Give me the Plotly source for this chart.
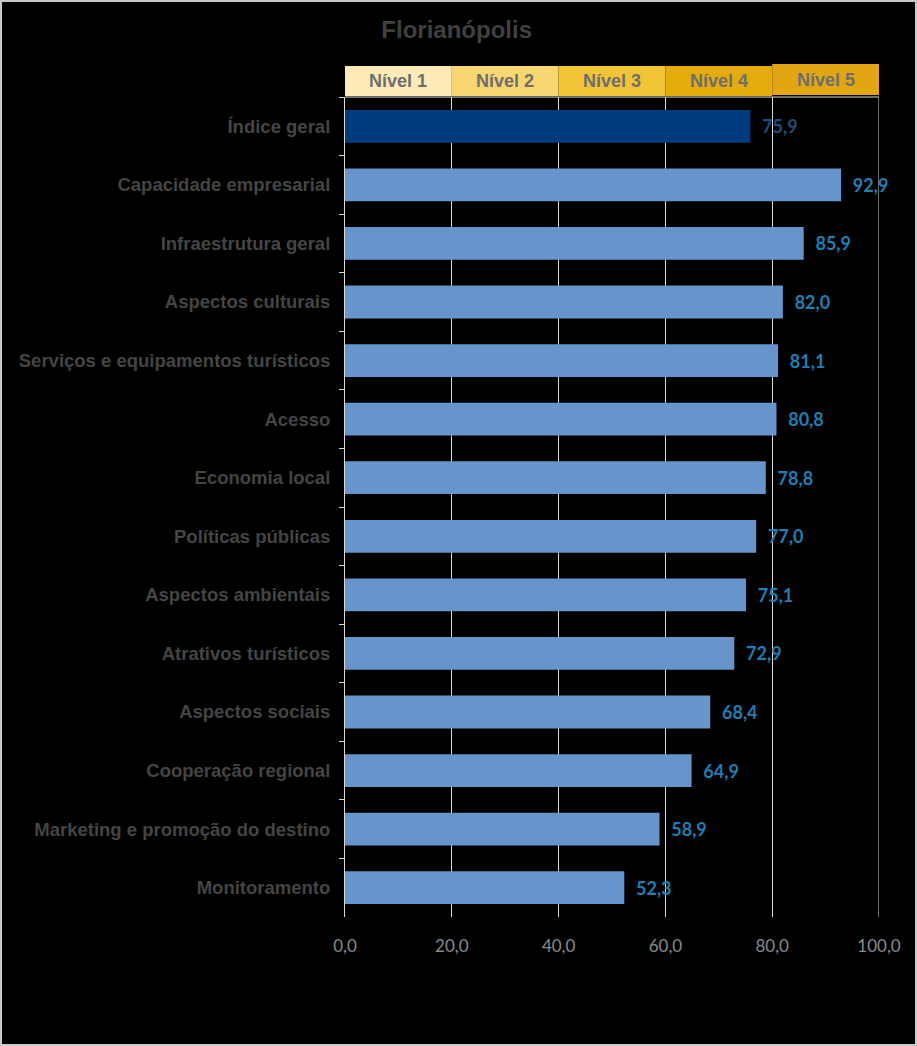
import plotly.graph_objects as go

categories = [
    "Índice geral", "Capacidade empresarial", "Infraestrutura geral", "Aspectos culturais",
    "Serviços e equipamentos turísticos", "Acesso", "Economia local", "Políticas públicas",
    "Aspectos ambientais", "Atrativos turísticos", "Aspectos sociais", "Cooperação regional",
    "Marketing e promoção do destino", "Monitoramento",
]
values = [75.9, 92.9, 85.9, 82.0, 81.1, 80.8, 78.8, 77.0, 75.1, 72.9, 68.4, 64.9, 58.9, 52.3]

level_labels = ["Nível 1", "Nível 2", "Nível 3", "Nível 4", "Nível 5"]
level_starts = [0, 20, 40, 60, 80]
level_ends = [20, 40, 60, 80, 100]
level_colors = ["#FCEBB6", "#F7D672", "#F0C435", "#E4AC0B", "#E2A612"]

tick_vals = [0, 20, 40, 60, 80, 100]

W, H = 917, 1046
L, R, T, B = 345, 38, 97, 129
PW, PH = W - L - R, H - T - B

def py(p):
    return (H - B - p) / PH

def px(p):
    return (p - L) / PW

bar_colors = ["#003C7D"] + ["#6694CB"] * (len(values) - 1)
text_colors = ["#1F4E79"] + ["#1F7FB3"] * (len(values) - 1)

fig = go.Figure(go.Bar(
    x=values, y=categories, orientation="h",
    marker=dict(color=bar_colors, line=dict(width=0)),
    width=0.56,
    text=values, texttemplate="\u00a0\u00a0%{x:.1f}", textposition="outside",
    textfont=dict(family="Lato", size=18, color=text_colors, weight="bold"),
    cliponaxis=False,
))

shapes = []
annotations = []
for i, (lab, x0, x1, c) in enumerate(zip(level_labels, level_starts, level_ends, level_colors)):
    top = 64 if i == 4 else 66
    bot = 95 if i == 4 else 96
    shapes.append(dict(type="rect", xref="x", yref="paper", x0=x0, x1=x1,
                       y0=py(bot), y1=py(top), fillcolor=c, line=dict(width=0)))
    annotations.append(dict(x=(x0 + x1) / 2, y=py((top + bot) / 2), xref="x", yref="paper",
                            xanchor="center", yanchor="middle",
                            text=lab, showarrow=False,
                            font=dict(family="Liberation Sans", size=18, color="#6E6E6E", weight="bold")))
# thin line under level bands
shapes.append(dict(type="line", xref="x", yref="paper", x0=0, x1=100, y0=1, y1=1,
                   line=dict(color="#D9D9D9", width=1)))
# gridline at the right edge (100)
shapes.append(dict(type="line", xref="x", yref="paper", x0=100, x1=100, y0=0, y1=1,
                   line=dict(color="#D9D9D9", width=1), layer="below"))
# outer border
shapes.append(dict(type="rect", xref="paper", yref="paper",
                   x0=px(1), x1=px(W - 1), y0=py(H - 1), y1=py(1),
                   line=dict(color="#C8C8C8", width=2), fillcolor="rgba(0,0,0,0)"))

fig.update_layout(
    width=W, height=H,
    margin=dict(l=L, r=R, t=T, b=B),
    paper_bgcolor="#000000", plot_bgcolor="#000000",
    separators=",.",
    showlegend=False,
    title=dict(text="Florianópolis", x=0.498, xanchor="center", y=1 - 30 / H, yanchor="middle",
               font=dict(family="Liberation Sans", size=24, color="#404040", weight="bold")),
    shapes=shapes,
    annotations=annotations,
    bargap=0.44,
)
fig.update_xaxes(range=[0, 100], tickvals=tick_vals, tickformat=".1f",
                 showgrid=True, gridcolor="#D9D9D9", gridwidth=1,
                 zeroline=False, showline=False, ticks="",
                 ticklabelstandoff=17,
                 tickfont=dict(family="Lato", size=17, color="#8A8A8A"))
fig.update_yaxes(autorange="reversed", showgrid=False, zeroline=False,
                 showline=True, linecolor="#D9D9D9", linewidth=1,
                 ticks="outside", tickson="boundaries", ticklen=5, tickcolor="#D9D9D9",
                 ticklabelstandoff=10,
                 tickfont=dict(family="Liberation Sans", size=18.5, color="#454545", weight="bold"))

fig.write_html("out.html", config={"displayModeBar": False},
               post_script="document.body.style.margin='0';document.body.style.overflow='hidden';")
